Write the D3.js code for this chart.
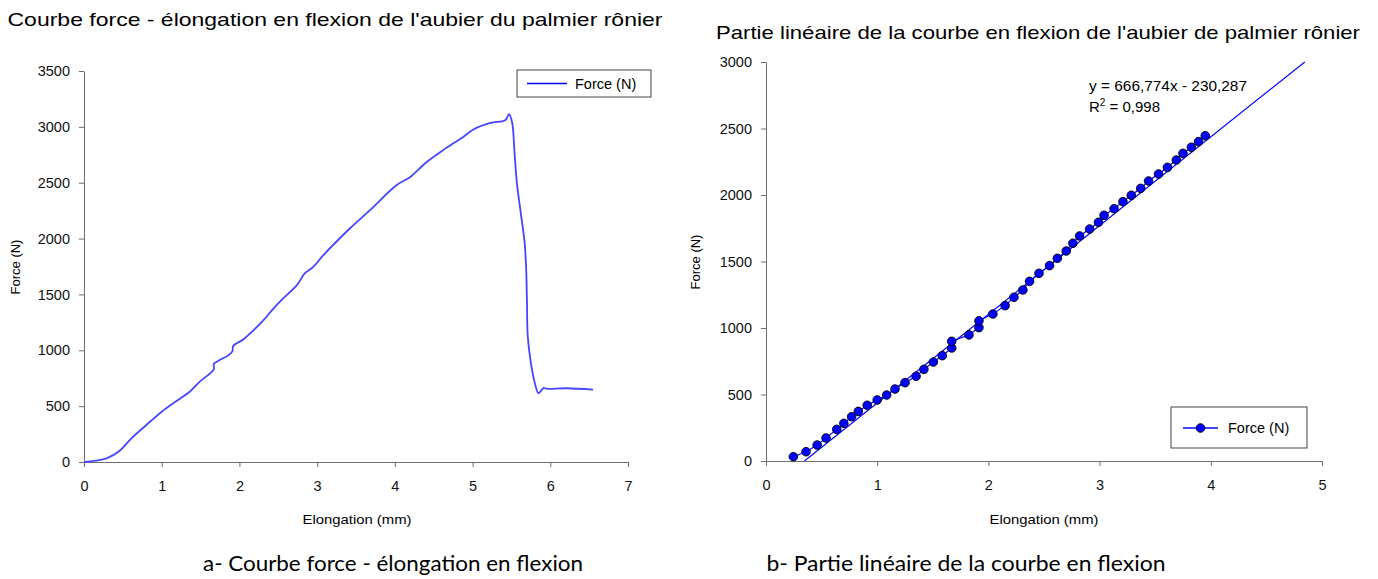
<!DOCTYPE html>
<html>
<head>
<meta charset="utf-8">
<script src="https://cdn.jsdelivr.net/npm/d3@7"></script>
<style>
  body { margin: 0; background: #fff; }
  text { font-family: "Liberation Sans", Arial, sans-serif; }
  .caption { font-family: Lato, "Open Sans", sans-serif; font-size: 22px; }
  .axis path, .axis line { stroke: #6e6e6e; }
  .axis text { font-size: 14.5px; fill: #111; }
</style>
</head>
<body>
<svg id="chart" width="1378" height="579"></svg>
<script>
//left chart: full force - elongation curve
const curveElong = [0, 0.15, 0.29, 0.46, 0.61, 0.85, 1.0, 1.21, 1.36, 1.49, 1.67, 1.67, 1.73, 1.86, 1.91, 1.92, 2.05, 2.16, 2.31, 2.44,
  2.54, 2.74, 2.84, 2.95, 3.08, 3.42, 3.68, 4.02, 4.20, 4.41, 4.62, 4.88, 5.01, 5.23, 5.42, 5.47, 5.51, 5.54, 5.57, 5.62,
  5.67, 5.69, 5.70, 5.71, 5.75, 5.80, 5.85, 5.91, 5.95, 6.21, 6.55];
const curveForce = [0, 12, 33, 101, 212, 360, 450, 555, 629, 719, 829, 877, 906, 957, 993, 1038, 1097, 1165, 1270, 1375,
  1449, 1583, 1688, 1747, 1851, 2090, 2254, 2478, 2552, 2686, 2791, 2910, 2976, 3035, 3059, 3113, 3035, 2767, 2499, 2231,
  1963, 1724, 1426, 1127, 889, 710, 615, 662, 656, 660, 647];
const leftXTicks = [0, 1, 2, 3, 4, 5, 6, 7];
const leftYTicks = [0, 500, 1000, 1500, 2000, 2500, 3000, 3500];

//right chart: linear part (measured points)
const linElong = [0.246, 0.36, 0.46, 0.54, 0.636, 0.70, 0.77, 0.83, 0.91, 1.00, 1.085, 1.16, 1.25, 1.35, 1.42, 1.505, 1.585, 1.67, 1.67,
  1.825, 1.915, 1.915, 2.04, 2.15, 2.23, 2.31, 2.37, 2.455, 2.55, 2.62, 2.70, 2.76, 2.82, 2.91, 2.99, 3.04, 3.13, 3.21, 3.285,
  3.37, 3.44, 3.53, 3.61, 3.69, 3.75, 3.825, 3.89, 3.95];
const linForce = [32, 70, 120, 173, 238, 283, 333, 373, 419, 459, 496, 541, 589, 637, 689, 744, 792, 850, 900,
  948, 1003, 1054, 1105, 1168, 1231, 1286, 1351, 1411, 1469, 1524, 1579, 1637, 1692, 1744, 1795, 1847, 1897, 1950, 1998,
  2050, 2105, 2158, 2208, 2263, 2313, 2359, 2401, 2446];
const fitSlope = 666.774, fitIntercept = -230.287;
const rightXTicks = [0, 1, 2, 3, 4, 5];
const rightYTicks = [0, 500, 1000, 1500, 2000, 2500, 3000];

const svg = d3.select("#chart");

//scales
const xL = d3.scaleLinear().domain([0, 7]).range([84, 628]);
const yL = d3.scaleLinear().domain([0, 3500]).range([462, 71]);
const xR = d3.scaleLinear().domain([0, 5]).range([766, 1322]);
const yR = d3.scaleLinear().domain([0, 3000]).range([461, 62]);

function drawAxes(x, y, xt, yt) {
    svg.append("g").attr("class", "axis")
        .attr("transform", `translate(0,${y.range()[0]})`)
        .call(d3.axisBottom(x).tickValues(xt).tickFormat(d3.format("d")).tickSize(5).tickSizeOuter(0).tickPadding(14));
    svg.append("g").attr("class", "axis")
        .attr("transform", `translate(${x.range()[0]},0)`)
        .call(d3.axisLeft(y).tickValues(yt).tickFormat(d3.format("d")).tickSize(5).tickSizeOuter(0).tickPadding(9));
}

//text stretched to the width
function wideText(x, y, size, width, str, cls) {
    return svg.append("text").attr("class", cls || null)
        .attr("x", x).attr("y", y).attr("text-anchor", "middle")
        .style("font-size", size + "px")
        .attr("textLength", width).attr("lengthAdjust", "spacingAndGlyphs")
        .text(str);
}

//----- left chart -----
drawAxes(xL, yL, leftXTicks, leftYTicks);

svg.append("path")
    .datum(d3.zip(curveElong, curveForce))
    .attr("fill", "none")
    .attr("stroke", "#4646ff")
    .attr("stroke-width", 1.8)
    .attr("d", d3.line().x(d => xL(d[0])).y(d => yL(d[1])).curve(d3.curveCatmullRom.alpha(0.5)));

wideText(335, 26, 19, 655, "Courbe force - élongation en flexion de l'aubier du palmier rônier");
wideText(357, 524, 13.5, 109, "Elongation (mm)");
svg.append("text").attr("transform", "translate(20,267) rotate(-90)").attr("text-anchor", "middle").style("font-size", "13px")
    .text("Force (N)");

//legend left
const legL = svg.append("g").attr("transform", "translate(517,70)");
legL.append("rect").attr("width", 134).attr("height", 27).attr("fill", "#fff").attr("stroke", "#444");
legL.append("line").attr("x1", 10).attr("x2", 50).attr("y1", 13.5).attr("y2", 13.5).attr("stroke", "#0000ff").attr("stroke-width", 1.5);
legL.append("text").attr("x", 58).attr("y", 19).style("font-size", "14.5px").text("Force (N)");

//----- right chart -----
drawAxes(xR, yR, rightXTicks, rightYTicks);

//trend line
const fitX0 = -fitIntercept / fitSlope, fitX1 = (3000 - fitIntercept) / fitSlope;
svg.append("line")
    .attr("x1", xR(fitX0)).attr("y1", yR(0))
    .attr("x2", xR(fitX1)).attr("y2", yR(fitSlope * fitX1 + fitIntercept))
    .attr("stroke", "#0000ff").attr("stroke-width", 1.2);

const linPts = d3.zip(linElong, linForce);
svg.append("path")
    .datum(linPts)
    .attr("fill", "none")
    .attr("stroke", "#0000ff")
    .attr("stroke-width", 1.2)
    .attr("d", d3.line().x(d => xR(d[0])).y(d => yR(d[1])));

svg.append("g").selectAll("circle")
    .data(linPts)
    .enter().append("circle")
    .attr("cx", d => xR(d[0]))
    .attr("cy", d => yR(d[1]))
    .attr("r", 4.3)
    .attr("fill", "#0000ff")
    .attr("stroke", "#000")
    .attr("stroke-width", 0.9);

wideText(1038, 39, 19, 644, "Partie linéaire de la courbe en flexion de l'aubier de palmier rônier");
wideText(1044, 524, 13.5, 109, "Elongation (mm)");
svg.append("text").attr("transform", "translate(700,262) rotate(-90)").attr("text-anchor", "middle").style("font-size", "13px")
    .text("Force (N)");

//equation annotation
svg.append("text").attr("x", 1089).attr("y", 91).style("font-size", "15px")
    .attr("textLength", 158).attr("lengthAdjust", "spacingAndGlyphs")
    .text("y = 666,774x - 230,287");
const r2 = svg.append("text").attr("x", 1089).attr("y", 112).style("font-size", "15px");
r2.append("tspan").text("R");
r2.append("tspan").attr("dy", -6).style("font-size", "10px").text("2");
r2.append("tspan").attr("dy", 6).text(" = 0,998");

//legend right
const legR = svg.append("g").attr("transform", "translate(1171,407)");
legR.append("rect").attr("width", 136).attr("height", 41).attr("fill", "#fff").attr("stroke", "#444");
legR.append("line").attr("x1", 12).attr("x2", 47).attr("y1", 21).attr("y2", 21).attr("stroke", "#0000ff").attr("stroke-width", 1.5);
legR.append("circle").attr("cx", 29.5).attr("cy", 21).attr("r", 4.3).attr("fill", "#0000ff").attr("stroke", "#000").attr("stroke-width", 0.9);
legR.append("text").attr("x", 57).attr("y", 26).style("font-size", "14.5px").text("Force (N)");

//captions
wideText(393, 571, 22, 380, "a- Courbe force - élongation en flexion", "caption");
wideText(966, 571, 22, 399, "b- Partie linéaire de la courbe en flexion", "caption");
</script>
</body>
</html>
